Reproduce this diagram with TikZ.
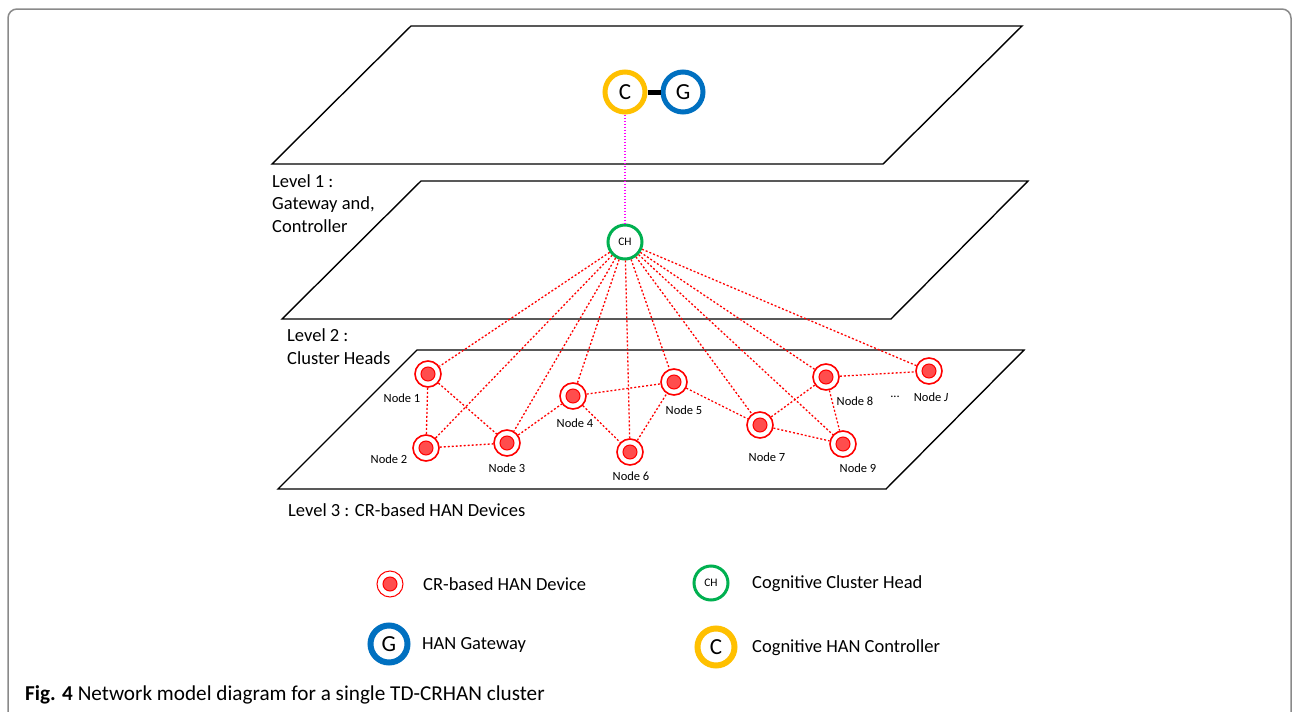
\documentclass[tikz,border=0pt]{standalone}
\usepackage{fontspec}
\setmainfont{Carlito}
\usepackage{tikz}
\definecolor{ctrl}{HTML}{FFC000}
\definecolor{gate}{HTML}{0070C0}
\definecolor{head}{HTML}{00B050}
\definecolor{dev}{HTML}{FF0000}
\definecolor{devfill}{HTML}{FF4D4D}
\definecolor{uplink}{HTML}{FF00FF}
\definecolor{frame}{HTML}{8A8A8A}
\tikzset{
  plane/.style={draw=black, line width=1.4pt},
  ring/.style={circle, fill=white, inner sep=0pt},
  ctrlnode/.style={ring, draw=ctrl, line width=5pt, minimum size=40pt, font=\fontsize{23}{23}\selectfont},
  gatenode/.style={ring, draw=gate, line width=5pt, minimum size=40pt, font=\fontsize{23}{23}\selectfont},
  headnode/.style={ring, draw=head, line width=3pt, minimum size=34pt, font=\fontsize{11.5}{12}\selectfont},
  devnode/.style={ring, draw=dev, line width=1.6pt, minimum size=26pt,
    path picture={\fill[devfill, draw=dev, line width=1pt] (path picture bounding box.center) circle (7pt);}},
  radio/.style={draw=dev, line width=1.3pt, dash pattern=on 2pt off 2pt},
  uplinkline/.style={draw=uplink, line width=1.2pt, dash pattern=on 1.5pt off 1.5pt},
  bond/.style={draw=black, line width=5pt},
  lab/.style={font=\fontsize{12.5}{13}\selectfont, inner sep=0pt},
  lvl/.style={font=\fontsize{18.5}{22.5}\selectfont, align=left, inner sep=0pt, anchor=base west},
  key/.style={font=\fontsize{18.5}{22.5}\selectfont, inner sep=0pt, anchor=west},
}

\begin{document}
\begin{tikzpicture}[x=1pt, y=-1pt]
\useasboundingbox (0,0) rectangle (1294,712);
\draw[frame, line width=1.5pt, rounded corners=9pt] (8,9) rectangle (1291,760);

% Planes
\draw[plane] (411,26) -- (1022,26) -- (883,164) -- (272,164) -- cycle;
\draw[plane] (421,181) -- (1028,181) -- (891,319) -- (282,319) -- cycle;
\draw[plane] (417,350) -- (1024,350) -- (886,489) -- (278,489) -- cycle;
% base = last line
\node[lvl] (lvl1) at (272,232) {Level 1 :\\Gateway and,\\Controller};
\node[lvl] (lvl2) at (287,364) {Level 2 :\\Cluster Heads};
\node[lvl] (lvl3) at (288,516) {Level 3 : CR-based HAN Devices};

% Level 1 and level 2
\node[ctrlnode] (ctrl) at (625,92) {C};
\node[gatenode] (gate) at (683,92) {G};
\node[headnode] (ch) at (625,242) {CH};

% Level 3
\node[devnode] (n1) at (428,374) {};
\node[devnode] (n2) at (426,448) {};
\node[devnode] (n3) at (507,443) {};
\node[devnode] (n4) at (573,396) {};
\node[devnode] (n5) at (674,382) {};
\node[devnode] (n6) at (630,452) {};
\node[devnode] (n7) at (760,425) {};
\node[devnode] (n8) at (826,377) {};
\node[devnode] (n9) at (843,444) {};
\node[devnode] (nj) at (929,371) {};
\node[lab] (n1lab) at (402,398) {Node 1};
\node[lab] (n2lab) at (389,459) {Node 2};
\node[lab] (n3lab) at (507,468) {Node 3};
\node[lab] (n4lab) at (575,423) {Node 4};
\node[lab] (n5lab) at (684,410) {Node 5};
\node[lab] (n6lab) at (631,476) {Node 6};
\node[lab] (n7lab) at (767,457) {Node 7};
\node[lab] (n8lab) at (855,401) {Node 8};
\node[lab] (n9lab) at (858,468) {Node 9};
\node[lab] (more) at (895,397) {...};
\node[lab] (njlab) at (931,397) {Node \textit{J}};

% Links
\draw[bond] (ctrl) -- (gate);
\draw[uplinkline] (ctrl) -- (ch);
\foreach \dst in {n1,n2,n3,n4,n5,n6,n7,n8,n9,nj}
  \draw[radio] (ch) -- (\dst);
\draw[radio] (n1) -- (n2);
\draw[radio] (n1) -- (n3);
\draw[radio] (n2) -- (n3);
\draw[radio] (n3) -- (n4);
\draw[radio] (n4) -- (n5);
\draw[radio] (n4) -- (n6);
\draw[radio] (n6) -- (n5);
\draw[radio] (n5) -- (n7);
\draw[radio] (n7) -- (n8);
\draw[radio] (n7) -- (n9);
\draw[radio] (n8) -- (n9);
\draw[radio] (n8) -- (nj);

% Legend
\node[devnode, line width=1pt] (kdev) at (390,584) {};
\node[key] (kdevtxt) at (423,584) {CR-based HAN Device};
\node[headnode] (khead) at (711,583) {CH};
\node[key] (kheadtxt) at (752,584) {Cognitive Cluster Head};
\node[gatenode, line width=6pt, minimum size=37pt] (kgate) at (389,644) {G};
\node[key] (kgatetxt) at (422,645) {HAN Gateway};
\node[ctrlnode, line width=6pt, minimum size=37pt] (kctrl) at (716,647) {C};
\node[key] (kctrltxt) at (752,648) {Cognitive HAN Controller};

% Caption
\node[anchor=base west, inner sep=0pt, font=\fontsize{21.2}{22}\selectfont] (caption) at (25,700)
  {\textbf{Fig. 4} Network model diagram for a single TD-CRHAN cluster};
\end{tikzpicture}
\end{document}
